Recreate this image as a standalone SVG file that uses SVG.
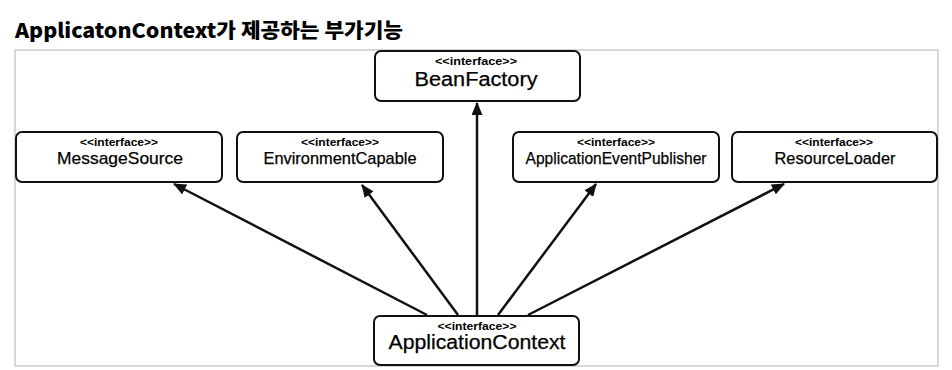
<svg xmlns="http://www.w3.org/2000/svg" width="952" height="370" viewBox="0 0 952 370">
<style>
.box{fill:#fff;stroke:#111;stroke-width:2}
.st{font-family:"Liberation Sans",Arial,sans-serif;font-weight:bold;font-size:11.5px;fill:#000;text-anchor:middle}
.nm{font-family:"Liberation Sans",Arial,sans-serif;font-size:17px;fill:#000;text-anchor:middle;stroke:#000;stroke-width:0.25}
.big{font-size:20px}
.con line{stroke:#111;stroke-width:2.5;marker-end:url(#ah)}
</style>
<defs>
<marker id="ah" viewBox="0 0 13 11" refX="12" refY="5.5" markerWidth="13" markerHeight="11" markerUnits="userSpaceOnUse" orient="auto">
<path d="M0,0 L13,5.5 L0,11 Z" fill="#111"/>
</marker>
</defs>
<rect width="952" height="370" fill="#fff"/>
<text x="15" y="38" font-family="'Noto Sans CJK KR','Noto Sans',sans-serif" font-weight="900" font-size="20" fill="#000" textLength="388" lengthAdjust="spacingAndGlyphs">ApplicatonContext가 제공하는 부가기능</text>
<rect x="15" y="50" width="923" height="316" fill="none" stroke="#d8d8d8" stroke-width="2"/>
<g class="con">
<line x1="427" y1="315" x2="174" y2="184"/>
<line x1="458" y1="315" x2="362" y2="185"/>
<line x1="477" y1="315" x2="477" y2="103"/>
<line x1="498" y1="315" x2="596" y2="184"/>
<line x1="528" y1="315" x2="784" y2="184"/>
</g>
<g id="BeanFactory">
<rect class="box" x="375" y="51" width="205" height="50" rx="6"/>
<text class="st" x="476" y="65" textLength="82" lengthAdjust="spacingAndGlyphs">&lt;&lt;interface&gt;&gt;</text>
<text class="nm big" x="476" y="86" textLength="123" lengthAdjust="spacingAndGlyphs">BeanFactory</text>
</g>
<g id="MessageSource">
<rect class="box" x="16" y="132" width="206" height="50" rx="6"/>
<text class="st" x="119" y="146" textLength="78" lengthAdjust="spacingAndGlyphs">&lt;&lt;interface&gt;&gt;</text>
<text class="nm" x="120" y="164" textLength="126" lengthAdjust="spacingAndGlyphs">MessageSource</text>
</g>
<g id="EnvironmentCapable">
<rect class="box" x="237" y="132" width="206" height="50" rx="6"/>
<text class="st" x="340" y="146" textLength="78" lengthAdjust="spacingAndGlyphs">&lt;&lt;interface&gt;&gt;</text>
<text class="nm" x="340" y="164" textLength="153" lengthAdjust="spacingAndGlyphs">EnvironmentCapable</text>
</g>
<g id="ApplicationEventPublisher">
<rect class="box" x="513" y="132" width="206" height="50" rx="6"/>
<text class="st" x="616" y="146" textLength="78" lengthAdjust="spacingAndGlyphs">&lt;&lt;interface&gt;&gt;</text>
<text class="nm" x="616" y="164" textLength="181" lengthAdjust="spacingAndGlyphs">ApplicationEventPublisher</text>
</g>
<g id="ResourceLoader">
<rect class="box" x="732" y="132" width="205" height="50" rx="6"/>
<text class="st" x="834" y="146" textLength="78" lengthAdjust="spacingAndGlyphs">&lt;&lt;interface&gt;&gt;</text>
<text class="nm" x="835" y="164" textLength="121" lengthAdjust="spacingAndGlyphs">ResourceLoader</text>
</g>
<g id="ApplicationContext">
<rect class="box" x="374" y="316" width="205" height="49" rx="6"/>
<text class="st" x="477" y="330" textLength="79" lengthAdjust="spacingAndGlyphs">&lt;&lt;interface&gt;&gt;</text>
<text class="nm big" x="477" y="349" textLength="177" lengthAdjust="spacingAndGlyphs">ApplicationContext</text>
</g>
</svg>
